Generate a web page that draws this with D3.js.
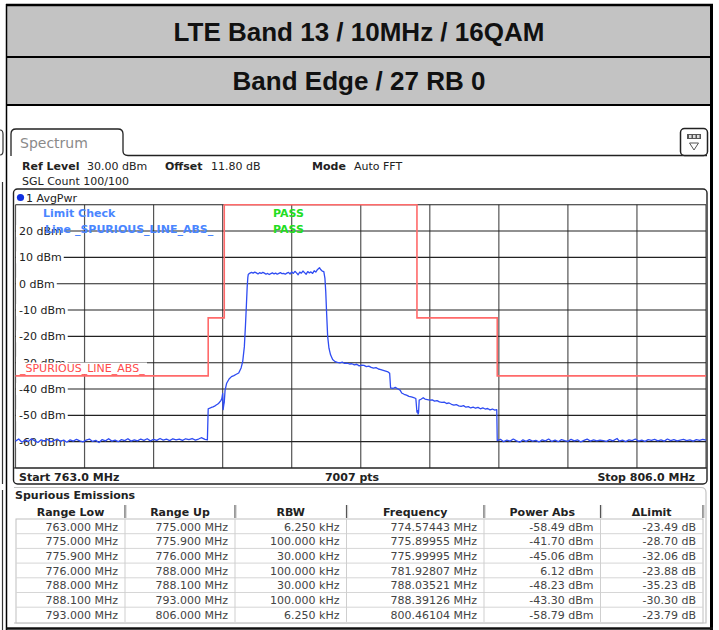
<!DOCTYPE html>
<html><head><meta charset="utf-8">
<script src="https://cdn.jsdelivr.net/npm/d3@7/dist/d3.min.js"></script>
<style>
body{margin:0;background:#fff;}
svg{display:block;}
text{font-family:"DejaVu Sans",Verdana,sans-serif;}
</style>
</head><body>
<svg id="chart" width="719" height="630"></svg>
<script>
// ---------------- DATA ----------------
const titleLines = ["LTE Band 13 / 10MHz / 16QAM", "Band Edge / 27 RB 0"];
const startMHz = 763.0, stopMHz = 806.0;
const refLevelDbm = 30, bottomDbm = -70;
const yTickValues = [20, 10, 0, -10, -20, -30, -40, -50, -60];
const yTickLabels = ["20 dBm", "10 dBm", "0 dBm", "-10 dBm", "-20 dBm", "-30 dBm", "-40 dBm", "-50 dBm", "-60 dBm"];

// spurious emission table
const tableHeaders = ["Range Low", "Range Up", "RBW", "Frequency", "Power Abs", "\u0394Limit"];
const rangeLow  = ["763.000 MHz", "775.000 MHz", "775.900 MHz", "776.000 MHz", "788.000 MHz", "788.100 MHz", "793.000 MHz"];
const rangeUp   = ["775.000 MHz", "775.900 MHz", "776.000 MHz", "788.000 MHz", "788.100 MHz", "793.000 MHz", "806.000 MHz"];
const rbw       = ["6.250 kHz", "100.000 kHz", "30.000 kHz", "100.000 kHz", "30.000 kHz", "100.000 kHz", "6.250 kHz"];
const peakFreq  = ["774.57443 MHz", "775.89955 MHz", "775.99995 MHz", "781.92807 MHz", "788.03521 MHz", "788.39126 MHz", "800.46104 MHz"];
const powerAbs  = ["-58.49 dBm", "-41.70 dBm", "-45.06 dBm", "6.12 dBm", "-48.23 dBm", "-43.30 dBm", "-58.79 dBm"];
const deltaLim  = ["-23.49 dB", "-28.70 dB", "-32.06 dB", "-23.88 dB", "-35.23 dB", "-30.30 dB", "-23.79 dB"];

// limit line (SPURIOUS_LINE_ABS_) per range
const limitLo  = [763, 775, 775.9, 776, 788, 788.1, 793];
const limitHi  = [775, 775.9, 776, 788, 788.1, 793, 806];
const limitDbm = [-35, -13, -13, 30, -13, -13, -35];

// measured trace (AvgPwr)
const traceFreq = [
 763.0,763.2,763.4,763.6,763.8,764.0,764.2,764.4,764.6,764.8,
 765.0,765.2,765.4,765.6,765.8,766.0,766.2,766.4,766.6,766.8,
 767.0,767.2,767.4,767.6,767.8,768.0,768.2,768.4,768.6,768.8,
 769.0,769.2,769.4,769.6,769.8,770.0,770.2,770.4,770.6,770.8,
 771.0,771.2,771.4,771.6,771.8,772.0,772.2,772.4,772.6,772.8,
 773.0,773.2,773.4,773.6,773.8,774.0,774.2,774.4,774.57,774.8,774.95,
 775.0,775.1,775.2,775.3,775.4,775.5,775.6,775.7,775.8,775.85,775.9,775.93,775.97,776.0,
 776.05,776.15,776.3,776.45,776.6,776.75,776.9,777.05,777.15,777.25,777.32,777.38,777.43,777.47,
 777.5,777.6,777.7,777.8,777.9,778.0,778.1,778.2,778.3,778.4,778.5,778.6,778.7,778.8,778.9,
 779.0,779.1,779.2,779.3,779.4,779.5,779.6,779.7,779.8,779.9,780.0,780.1,780.2,780.3,780.4,780.5,
 780.6,780.7,780.8,780.9,781.0,781.1,781.2,781.3,781.4,781.5,781.6,781.7,781.8,781.93,782.0,782.1,782.2,
 782.27,782.32,782.38,782.44,782.52,782.62,782.75,782.9,
 783.05,783.2,783.35,783.5,783.65,783.8,783.95,784.1,784.25,784.4,784.55,784.7,784.85,785.0,785.15,
 785.3,785.45,785.6,785.75,785.9,786.05,786.2,786.3,
 786.36,786.5,786.65,786.8,786.95,787.05,787.2,787.35,787.5,787.65,787.8,787.93,
 788.0,788.035,788.07,788.1,788.14,788.25,788.39,788.5,788.65,788.8,788.95,789.1,789.25,789.4,789.55,
 789.7,789.85,790.0,790.15,790.3,790.45,790.6,790.75,790.9,791.05,791.2,791.35,791.5,791.65,791.8,
 791.95,792.1,792.25,792.4,792.55,792.7,792.85,792.97,
 793.0,793.2,793.4,793.6,793.8,794.0,794.2,794.4,794.6,794.8,
 795.0,795.2,795.4,795.6,795.8,796.0,796.2,796.4,796.6,796.8,
 797.0,797.2,797.4,797.6,797.8,798.0,798.2,798.4,798.6,798.8,
 799.0,799.2,799.4,799.6,799.8,800.0,800.2,800.46,800.6,800.8,
 801.0,801.2,801.4,801.6,801.8,802.0,802.2,802.4,802.6,802.8,
 803.0,803.2,803.4,803.6,803.8,804.0,804.2,804.4,804.6,804.8,
 805.0,805.2,805.4,805.6,805.8,806.0
];
const tracePwr = [
 -59.8,-59.0,-60.2,-59.4,-59.9,-58.9,-59.7,-60.3,-59.3,-59.8,
 -59.1,-60.1,-59.6,-59.0,-59.9,-59.4,-60.2,-59.3,-59.8,-59.1,
 -59.7,-60.1,-59.4,-59.0,-59.9,-59.5,-60.3,-59.2,-59.7,-58.9,
 -59.8,-59.4,-60.0,-59.2,-59.6,-58.9,-59.8,-59.3,-59.7,-59.0,
 -59.5,-58.9,-59.7,-59.1,-59.5,-58.8,-59.4,-59.0,-59.6,-58.9,
 -59.3,-59.0,-59.5,-58.9,-59.2,-58.8,-59.4,-59.0,-58.5,-59.1,-59.3,
 -47.5,-47.3,-47.0,-46.8,-46.5,-46.1,-45.7,-45.1,-44.3,-43.6,-41.7,-47.8,-46.0,-45.1,
 -40.5,-37.8,-36.2,-35.3,-34.9,-34.4,-33.9,-32.0,-29.5,-24.0,-16.0,-8.0,-1.0,2.5,
 3.6,4.0,4.3,4.0,4.4,4.1,3.7,4.2,3.9,4.3,4.0,3.6,3.9,3.5,3.8,
 4.1,3.7,4.0,3.6,3.9,4.2,3.8,3.9,3.6,4.0,4.3,3.7,4.5,3.9,4.7,4.1,
 3.4,4.4,4.0,4.8,4.2,3.6,4.6,4.1,4.5,3.9,4.9,4.4,5.3,6.1,5.4,4.8,4.6,
 2.0,-3.0,-12.0,-20.0,-24.5,-27.0,-28.8,-29.6,
 -29.9,-30.1,-29.8,-30.3,-30.2,-30.5,-30.4,-30.8,-30.6,-31.2,-30.9,-31.0,-31.5,-31.3,-31.8,
 -32.1,-31.9,-32.4,-32.6,-32.9,-33.2,-33.5,-34.0,
 -39.6,-39.8,-39.4,-39.9,-40.4,-41.5,-42.0,-42.3,-42.8,-43.0,-43.3,-43.6,
 -48.8,-48.23,-49.5,-48.9,-44.2,-43.9,-43.3,-43.8,-44.0,-44.2,-44.1,-44.6,-44.4,-44.9,-45.1,
 -45.0,-45.5,-45.3,-45.8,-46.1,-45.9,-46.4,-46.6,-46.3,-46.9,-46.7,-47.2,-46.9,-47.3,-47.0,
 -47.5,-47.2,-47.6,-47.4,-47.9,-47.6,-48.0,-47.8,
 -59.6,-59.1,-60.0,-59.4,-59.8,-59.0,-59.7,-60.2,-59.3,-59.9,
 -59.2,-59.8,-59.5,-60.1,-59.3,-59.7,-59.0,-59.9,-59.4,-60.0,
 -59.2,-59.6,-59.9,-59.1,-59.7,-59.3,-60.1,-59.5,-59.0,-59.8,
 -59.3,-59.7,-59.4,-59.6,-59.9,-59.2,-59.7,-58.8,-59.8,-59.4,
 -60.0,-59.3,-59.6,-59.0,-59.8,-59.4,-59.9,-59.2,-59.5,-59.1,
 -59.7,-59.3,-59.8,-59.0,-59.6,-59.2,-59.7,-59.4,-59.1,-59.6,
 -59.3,-59.8,-59.2,-59.5,-59.1,-59.4
];

// ---------------- DRAW ----------------
const svg = d3.select("#chart");
svg.append("rect").attr("width", 719).attr("height", 630).attr("fill", "#fff");

// header block
svg.append("rect").attr("x", 6).attr("y", 5).attr("width", 705).attr("height", 100).attr("fill", "#c3c3c3");
svg.append("line").attr("x1", 6).attr("x2", 713).attr("y1", 5).attr("y2", 5).attr("stroke", "#000").attr("stroke-width", 2.5);
svg.append("line").attr("x1", 6).attr("x2", 713).attr("y1", 57).attr("y2", 57).attr("stroke", "#000").attr("stroke-width", 2);
svg.append("line").attr("x1", 6).attr("x2", 713).attr("y1", 105).attr("y2", 105).attr("stroke", "#000").attr("stroke-width", 2);
svg.append("line").attr("x1", 6.5).attr("x2", 6.5).attr("y1", 4).attr("y2", 630).attr("stroke", "#000").attr("stroke-width", 1.5);
svg.append("line").attr("x1", 711.5).attr("x2", 711.5).attr("y1", 4).attr("y2", 630).attr("stroke", "#000").attr("stroke-width", 3);
svg.append("line").attr("x1", 6).attr("x2", 713).attr("y1", 628.5).attr("y2", 628.5).attr("stroke", "#111").attr("stroke-width", 2.5);
svg.selectAll("text.title").data(titleLines).enter().append("text")
  .attr("class", "title").attr("x", 359).attr("y", (d, i) => i === 0 ? 41 : 90)
  .attr("text-anchor", "middle").style("font-family", "'Liberation Sans',Arial,sans-serif")
  .style("font-weight", "bold").style("font-size", "26px").attr("fill", "#111").text(d => d);

// left artifacts (neighbour screenshot edge)
svg.append("path").attr("d", "M0,130 Q3,130 3,134 L3,151 Q3,155 0,155").attr("fill", "none").attr("stroke", "#333").attr("stroke-width", 1.2);
svg.append("line").attr("x1", 2.5).attr("x2", 2.5).attr("y1", 182).attr("y2", 484).attr("stroke", "#333").attr("stroke-width", 1.2);
svg.append("line").attr("x1", 2.5).attr("x2", 2.5).attr("y1", 490).attr("y2", 630).attr("stroke", "#333").attr("stroke-width", 1.2);

// tab
svg.append("path").attr("d", "M11,156 L11,134 Q11,129 16,129 L118,129 Q123,129 123,134 L123,151 Q123,155.5 128,155.5 L707,155.5")
  .attr("fill", "none").attr("stroke", "#222").attr("stroke-width", 1.3);
svg.append("text").attr("x", 20).attr("y", 148).style("font-size", "14px").attr("fill", "#8a8a8a").text("Spectrum");

// icon
svg.append("rect").attr("x", 680.5).attr("y", 128.5).attr("width", 27).attr("height", 27).attr("rx", 4)
  .attr("fill", "#fff").attr("stroke", "#222").attr("stroke-width", 1.5);
svg.append("rect").attr("x", 687).attr("y", 134).attr("width", 14).attr("height", 5).attr("fill", "#555");
[689, 693, 697].forEach(x => svg.append("rect").attr("x", x).attr("y", 135).attr("width", 2.5).attr("height", 3).attr("fill", "#ddd"));
svg.append("path").attr("d", "M689.5,143 L698.5,143 L694,150 Z").attr("fill", "#fff").attr("stroke", "#555").attr("stroke-width", 1);

// info lines
function infoText(x, y, bold, str, col) {
  svg.append("text").attr("x", x).attr("y", y).style("font-size", "11px")
    .style("font-weight", bold ? "bold" : "normal").attr("fill", col || "#222").text(str);
}
infoText(22, 169.5, true, "Ref Level");
infoText(87, 169.5, false, "30.00 dBm");
infoText(165, 169.5, true, "Offset");
infoText(211, 169.5, false, "11.80 dB");
infoText(312, 169.5, true, "Mode");
infoText(354, 169.5, false, "Auto FFT");
infoText(22, 184.5, false, "SGL Count 100/100");

// diagram frame
svg.append("rect").attr("x", 13.5).attr("y", 189).attr("width", 693.5).attr("height", 295).attr("rx", 4)
  .attr("fill", "#fff").attr("stroke", "#222").attr("stroke-width", 1.4);
svg.append("circle").attr("cx", 20.5).attr("cy", 197.5).attr("r", 3.6).attr("fill", "#1030e0");
infoText(26, 201.5, false, "1 AvgPwr");

// scales
const x = d3.scaleLinear().domain([startMHz, stopMHz]).range([15.5, 706]);
const y = d3.scaleLinear().domain([bottomDbm, refLevelDbm]).range([468, 204.7]);
const plot = svg.append("g");

// grid
const vDiv = d3.range(11).map(i => startMHz + i * (stopMHz - startMHz) / 10);
const hDiv = d3.range(11).map(i => bottomDbm + i * (refLevelDbm - bottomDbm) / 10);
plot.selectAll("line.v").data(vDiv).enter().append("line").attr("class", "v")
  .attr("x1", d => x(d)).attr("x2", d => x(d)).attr("y1", y(refLevelDbm)).attr("y2", y(bottomDbm))
  .attr("stroke", "#555").attr("stroke-width", 1.2);
plot.selectAll("line.h").data(hDiv).enter().append("line").attr("class", "h")
  .attr("x1", x(startMHz)).attr("x2", x(stopMHz)).attr("y1", d => y(d)).attr("y2", d => y(d))
  .attr("stroke", "#222").attr("stroke-width", 1.1);

// y labels with white background
yTickValues.forEach((v, i) => {
  const gg = plot.append("g");
  const bg = gg.append("rect").attr("fill", "#fff");
  const t = gg.append("text").attr("x", 19).attr("y", y(v) + 4).style("font-size", "11px").attr("fill", "#222").text(yTickLabels[i]);
  const w = t.node().getComputedTextLength();
  bg.attr("x", 16).attr("y", y(v) - 6).attr("width", w + 5).attr("height", 12);
});

// limit line label box
plot.append("rect").attr("x", 16).attr("y", 362.5).attr("width", 131).attr("height", 12).attr("fill", "#fff");
plot.append("text").attr("x", 20).attr("y", 372).style("font-size", "11px").attr("fill", "#ff4a4a").text("_SPURIOUS_LINE_ABS_");

// limit line
const limitPts = [];
limitLo.forEach((lo, i) => { limitPts.push([lo, limitDbm[i]]); limitPts.push([limitHi[i], limitDbm[i]]); });
plot.append("path").datum(limitPts)
  .attr("d", d3.line().x(d => x(d[0])).y(d => y(d[1])))
  .attr("fill", "none").attr("stroke", "#ff6a6a").attr("stroke-width", 1.6);

// trace
const traceData = traceFreq.map((f, i) => [f, tracePwr[i]]);
plot.append("path").datum(traceData)
  .attr("d", d3.line().x(d => x(d[0])).y(d => y(d[1])))
  .attr("fill", "none").attr("stroke", "#2f4cf2").attr("stroke-width", 1.3).attr("stroke-linejoin", "round");

// limit check texts
function plotText(px, py, str, col) {
  plot.append("text").attr("x", px).attr("y", py).style("font-size", "11px").style("font-weight", "bold").attr("fill", col).text(str);
}
plotText(43, 216.5, "Limit Check", "#4a86ff");
plotText(45, 233, "Line _SPURIOUS_LINE_ABS_", "#4a86ff");
plotText(273, 216.5, "PASS", "#22dd22");
plotText(273, 233, "PASS", "#22dd22");

// bottom bar
svg.append("line").attr("x1", 14).attr("x2", 707).attr("y1", 468).attr("y2", 468).attr("stroke", "#222").attr("stroke-width", 1.2);
infoText(19, 480.5, true, "Start 763.0 MHz");
svg.append("text").attr("x", 352).attr("y", 480.5).attr("text-anchor", "middle").style("font-size", "11px").style("font-weight", "bold").attr("fill", "#222").text("7007 pts");
svg.append("text").attr("x", 695).attr("y", 480.5).attr("text-anchor", "end").style("font-size", "11px").style("font-weight", "bold").attr("fill", "#222").text("Stop 806.0 MHz");

// spurious emissions panel
svg.append("path").attr("d", "M14,487.5 L701,487.5 Q706,487.5 706,492.5 L706,623 L14,623")
  .attr("fill", "none").attr("stroke", "#c4c4c4").attr("stroke-width", 1.2);
infoText(15, 498.5, true, "Spurious Emissions", "#222");

const colEdges = [16, 125, 235, 346.5, 484, 600.5, 703];
const headY = 515.5, rowTop = 519, rowH = 14.7;
// data box
svg.append("rect").attr("x", 16).attr("y", rowTop).attr("width", 687).attr("height", rowH * 7 + 1).attr("fill", "#fff").attr("stroke", "#c0c0c0").attr("stroke-width", 1);
d3.range(1, 7).forEach(r => svg.append("line").attr("x1", 16).attr("x2", 703).attr("y1", rowTop + r * rowH).attr("y2", rowTop + r * rowH).attr("stroke", "#d6d6d6").attr("stroke-width", 1));
colEdges.slice(1, 6).forEach(cx => svg.append("line").attr("x1", cx).attr("x2", cx).attr("y1", rowTop).attr("y2", rowTop + rowH * 7).attr("stroke", "#cfcfcf").attr("stroke-width", 1));
// header separators
colEdges.slice(1).forEach(cx => {
  svg.append("line").attr("x1", cx).attr("x2", cx).attr("y1", 505).attr("y2", 518).attr("stroke", "#555").attr("stroke-width", 1.2);
  svg.append("line").attr("x1", cx + 1.2).attr("x2", cx + 1.2).attr("y1", 505).attr("y2", 518).attr("stroke", "#ccc").attr("stroke-width", 1);
});
tableHeaders.forEach((h, i) => {
  svg.append("text").attr("x", (colEdges[i] + colEdges[i + 1]) / 2).attr("y", headY).attr("text-anchor", "middle")
    .style("font-size", "11px").style("font-weight", "bold").attr("fill", "#222").text(h);
});
const cols = [rangeLow, rangeUp, rbw, peakFreq, powerAbs, deltaLim];
cols.forEach((col, ci) => {
  col.forEach((v, r) => {
    svg.append("text").attr("x", colEdges[ci + 1] - 7).attr("y", rowTop + r * rowH + 11.5).attr("text-anchor", "end")
      .style("font-size", "11px").attr("fill", "#444").text(v);
  });
});
</script>
</body></html>
